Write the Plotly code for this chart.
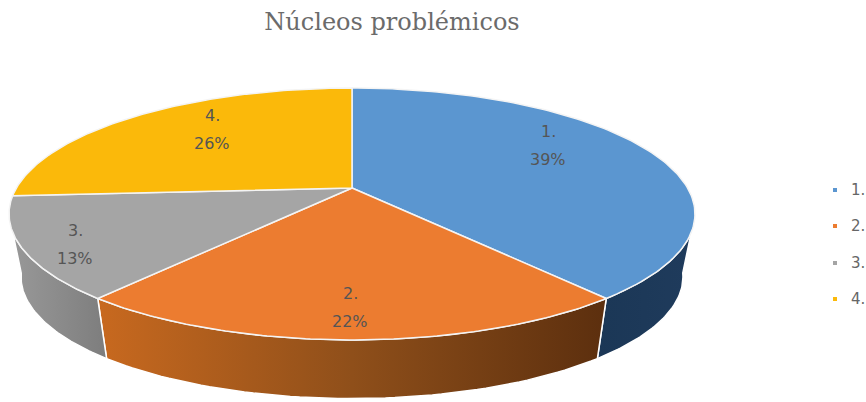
import numpy as np
import plotly.graph_objects as go

# --- data ---
categories = ["1.", "2.", "3.", "4."]
shares = [39, 22, 13, 26]
title_text = "Núcleos problémicos"

# --- style ---
top_colors = ["#5B96D0", "#EC7C30", "#A5A5A5", "#FBB90A"]
side_scales = [
    [[0, "#1B3756"], [1, "#1F3B5C"]],
    [[0, "#C8691F"], [0.5, "#8F4F1A"], [1, "#5C2F0E"]],
    [[0, "#989898"], [0.5, "#8B8B8B"], [1, "#7D7D7D"]],
    None,
]
label_px = [(548, 145), (350, 307), (75, 244), (212, 129)]
legend_y_px = [190, 226, 263, 299]
LINE_GAP = 28

# Projection of the tilted disc to the 866x402 picture
CX, CY, A, B, P = 352, 188, 335.6, 120.6, 0.206
DROP, SHRINK = 64, 0.965


def project(theta_deg, r=1.0, scale=1.0, drop=0.0):
    t = np.radians(np.asarray(theta_deg, dtype=float))
    X, Y = r * np.sin(t), r * np.cos(t)
    den = 1 + P * Y
    return CX + scale * A * X / den, CY + drop - scale * B * Y / den


total = sum(shares)
edges = np.cumsum([0] + shares) / total * 360
fig = go.Figure()

# Visible rim pieces: (slice, top arc range, lower arc range)
rims = [
    (0, (110, edges[1]), (100, edges[1])),
    (1, (edges[1], edges[2]), (edges[1], edges[2])),
    (2, (edges[2], 250), (edges[2], 260)),
]
for i, top_rng, low_rng in rims:
    xt, yt = project(np.linspace(*top_rng, 60))
    xl, yl = project(np.linspace(*low_rng, 60), scale=SHRINK, drop=DROP)
    fig.add_trace(go.Scatter(
        x=np.r_[xt, xl[::-1], xt[0]], y=np.r_[yt, yl[::-1], yt[0]],
        mode="lines", fill="toself", line=dict(color="white", width=1.5),
        fillgradient=dict(type="horizontal", colorscale=side_scales[i]),
        showlegend=False, hoverinfo="skip"))

label_font = dict(family="DejaVu Sans", size=16, color="#555555")
for i, cat in enumerate(categories):
    xs, ys = project(np.linspace(edges[i], edges[i + 1], 120))
    fig.add_trace(go.Scatter(
        x=np.r_[CX, xs, CX], y=np.r_[CY, ys, CY],
        mode="lines", fill="toself", fillcolor=top_colors[i],
        line=dict(color="#F4F4F4", width=1.5),
        showlegend=False, hoverinfo="skip"))
    lx, ly = label_px[i]
    fig.add_annotation(x=lx, y=ly - LINE_GAP / 2, xref="x", yref="y", text=cat,
                       showarrow=False, font=label_font)
    fig.add_annotation(x=lx, y=ly + LINE_GAP / 2, xref="x", yref="y", text=f"{shares[i]}%",
                       showarrow=False, font=label_font)
    fig.add_annotation(x=849, y=legend_y_px[i], xref="x", yref="y", xanchor="left", text=cat,
                       showarrow=False, font=dict(family="DejaVu Sans", size=15, color="#666666"))

fig.add_trace(go.Scatter(
    x=[835] * len(categories), y=legend_y_px, mode="markers", showlegend=False, hoverinfo="skip",
    marker=dict(symbol="square", size=4, color=top_colors)))

fig.update_layout(
    width=866, height=402, margin=dict(l=0, r=0, t=0, b=0),
    paper_bgcolor="white", plot_bgcolor="white", showlegend=False,
    xaxis=dict(range=[0, 866], visible=False, fixedrange=True),
    yaxis=dict(range=[402, 0], visible=False, fixedrange=True),
    title=dict(text=title_text, x=392 / 866, xanchor="center", y=1 - 22 / 402, yanchor="middle",
               font=dict(family="DejaVu Serif", size=24, color="#6B6B6B")),
)
fig.write_html("out.html", config={"displayModeBar": False},
               post_script="document.body.style.margin='0';")
